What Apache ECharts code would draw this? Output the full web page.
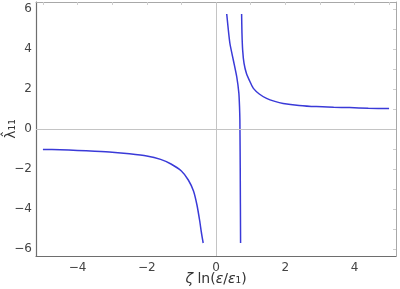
<!DOCTYPE html>
<html>
<head>
<meta charset="utf-8">
<script src="https://cdn.jsdelivr.net/npm/echarts@6/dist/echarts.min.js"></script>
<style>
  html, body { margin: 0; padding: 0; background: #fff; }
  #chart { width: 400px; height: 289px; }
</style>
</head>
<body>
<div id="chart"></div>
<script>
// branch data: [zeta ln(eps/eps1), lambda11]
const leftBranch = [
  [-5.0, -1.02], [-4.5, -1.04], [-4.0, -1.07], [-3.5, -1.11], [-3.0, -1.16],
  [-2.5, -1.24], [-2.0, -1.35], [-1.6, -1.52], [-1.3, -1.75], [-1.0, -2.1],
  [-0.8, -2.55], [-0.65, -3.1], [-0.55, -3.8], [-0.47, -4.6], [-0.42, -5.2],
  [-0.37, -5.7]
]
const middleBranch = [
  [0.31, 5.75], [0.40, 4.3], [0.50, 3.45], [0.60, 2.6], [0.66, 1.8],
  [0.68, 1.1], [0.69, 0.45], [0.70, -2.0], [0.71, -5.7]
]
const rightBranch = [
  [0.74, 5.75], [0.75, 4.8], [0.77, 3.95], [0.81, 3.28], [0.88, 2.78],
  [1.0, 2.3], [1.08, 2.03], [1.25, 1.75], [1.46, 1.53], [1.7, 1.38],
  [1.94, 1.28], [2.4, 1.18], [2.9, 1.12], [3.4, 1.09], [3.86, 1.07],
  [4.4, 1.04], [5.0, 1.02]
]
const xTicks = [-4, -2, 0, 2, 4]
const yTicks = [-6, -4, -2, 0, 2, 4, 6]
const xMinorTicks = [-5, -4, -3, -2, -1, 0, 1, 2, 3, 4, 5]
const yMinorTicks = [-6, -5, -4, -3, -2, -1, 0, 1, 2, 3, 4, 5, 6]

const lineColor = '#3a3ad8'
const fmt = v => (v < 0 ? '\u2212' + Math.abs(v) : String(v))

const chart = echarts.init(document.getElementById('chart'))

function branch(data) {
  return {
    type: 'line',
    data: data,
    showSymbol: false,
    smooth: 0.2,
    lineStyle: { color: lineColor, width: 1.5 },
    silent: true,
    animation: false
  }
}

const series = [branch(leftBranch), branch(middleBranch), branch(rightBranch)]
series[0].markLine = {
  silent: true,
  symbol: 'none',
  label: { show: false },
  lineStyle: { color: '#c4c4c4', width: 1, type: 'solid' },
  data: [{ xAxis: 0 }, { yAxis: 0 }]
}

const it = { fontStyle: 'italic', fontFamily: 'DejaVu Sans', fontSize: 14, color: '#333' }

chart.setOption({
  animation: false,
  grid: { left: 36, right: 4, top: 2, bottom: 33, containLabel: false, outerBoundsMode: 'none' },
  xAxis: [{
    type: 'value',
    min: -5.2,
    max: 5.2,
    position: 'bottom',
    axisLine: { show: true, onZero: false, lineStyle: { color: '#6e6e6e', width: 1.2 } },
    axisTick: { show: false },
    splitLine: { show: false },
    axisLabel: {
      customValues: xTicks,
      formatter: fmt,
      color: '#444',
      fontFamily: 'DejaVu Sans',
      fontSize: 12,
      margin: 6
    },
    name: '{z|\u03b6} ln({z|\u03b5}/{z|\u03b5}\u2081)',
    nameLocation: 'middle',
    nameMoveOverlap: false,
    nameGap: 16,
    nameTextStyle: {
      color: '#333',
      fontFamily: 'DejaVu Sans',
      fontSize: 14,
      rich: { z: it }
    }
  }, {
    type: 'value',
    min: -5.2,
    max: 5.2,
    position: 'top',
    axisLine: { show: true, onZero: false, lineStyle: { color: '#a8a8a8' } },
    axisTick: { show: true, inside: true, length: 3, customValues: xMinorTicks, lineStyle: { color: '#cfcfcf' } },
    axisLabel: { show: false },
    splitLine: { show: false }
  }],
  yAxis: [{
    type: 'value',
    min: -6.35,
    max: 6.35,
    position: 'left',
    axisLine: { show: true, onZero: false, lineStyle: { color: '#6e6e6e', width: 1.2 } },
    axisTick: { show: false },
    splitLine: { show: false },
    axisLabel: {
      customValues: yTicks,
      formatter: fmt,
      color: '#444',
      fontFamily: 'DejaVu Sans',
      fontSize: 12,
      margin: 4
    },
    name: '\u03bb\u0302\u2081\u2081',
    nameLocation: 'middle',
    nameMoveOverlap: false,
    nameGap: 18,
    nameTextStyle: { color: '#333', fontFamily: 'DejaVu Sans', fontSize: 14 }
  }, {
    type: 'value',
    min: -6.35,
    max: 6.35,
    position: 'right',
    axisLine: { show: true, onZero: false, lineStyle: { color: '#a8a8a8' } },
    axisTick: { show: true, inside: true, length: 3, customValues: yMinorTicks, lineStyle: { color: '#cfcfcf' } },
    axisLabel: { show: false },
    splitLine: { show: false }
  }],
  series: series
})
</script>
</body>
</html>
